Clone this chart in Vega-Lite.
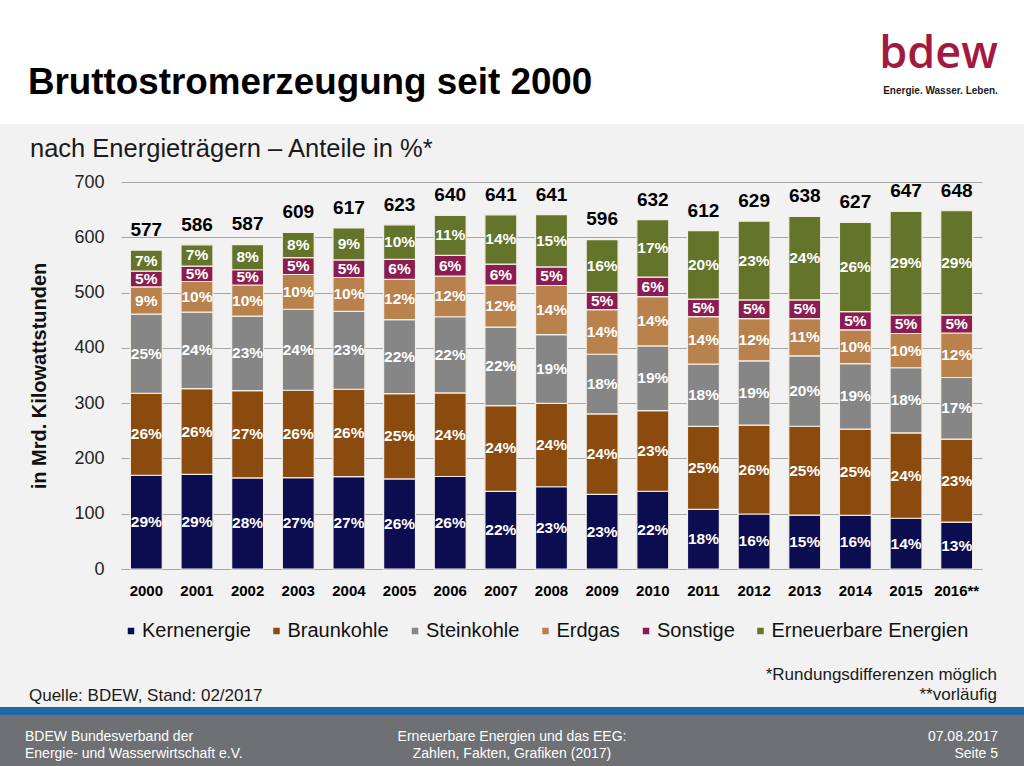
{
  "$schema": "https://vega.github.io/schema/vega-lite/v6.json",
  "background": "#f2f2f2",
  "padding": 0,
  "spacing": 0,
  "config": {
    "font": "Liberation Sans",
    "view": {"stroke": null},
    "concat": {"spacing": 0}
  },
  "datasets": {
    "reihenfolge": [
      {"Traeger":"Kernenergie","Rang":1},
      {"Traeger":"Braunkohle","Rang":2},
      {"Traeger":"Steinkohle","Rang":3},
      {"Traeger":"Erdgas","Rang":4},
      {"Traeger":"Sonstige","Rang":5},
      {"Traeger":"Erneuerbare Energien","Rang":6}
    ],
    "anteile": [
      {"Jahr":"2000","Traeger":"Kernenergie","TWh":169.6,"Anteil":"29%"},
      {"Jahr":"2000","Traeger":"Braunkohle","TWh":148.3,"Anteil":"26%"},
      {"Jahr":"2000","Traeger":"Steinkohle","TWh":143.1,"Anteil":"25%"},
      {"Jahr":"2000","Traeger":"Erdgas","TWh":49.2,"Anteil":"9%"},
      {"Jahr":"2000","Traeger":"Sonstige","TWh":28.5,"Anteil":"5%"},
      {"Jahr":"2000","Traeger":"Erneuerbare Energien","TWh":37.9,"Anteil":"7%"},
      {"Jahr":"2001","Traeger":"Kernenergie","TWh":171.3,"Anteil":"29%"},
      {"Jahr":"2001","Traeger":"Braunkohle","TWh":154.8,"Anteil":"26%"},
      {"Jahr":"2001","Traeger":"Steinkohle","TWh":138.4,"Anteil":"24%"},
      {"Jahr":"2001","Traeger":"Erdgas","TWh":55.5,"Anteil":"10%"},
      {"Jahr":"2001","Traeger":"Sonstige","TWh":27.9,"Anteil":"5%"},
      {"Jahr":"2001","Traeger":"Erneuerbare Energien","TWh":38.5,"Anteil":"7%"},
      {"Jahr":"2002","Traeger":"Kernenergie","TWh":164.8,"Anteil":"28%"},
      {"Jahr":"2002","Traeger":"Braunkohle","TWh":158.0,"Anteil":"27%"},
      {"Jahr":"2002","Traeger":"Steinkohle","TWh":134.6,"Anteil":"23%"},
      {"Jahr":"2002","Traeger":"Erdgas","TWh":56.3,"Anteil":"10%"},
      {"Jahr":"2002","Traeger":"Sonstige","TWh":27.6,"Anteil":"5%"},
      {"Jahr":"2002","Traeger":"Erneuerbare Energien","TWh":45.6,"Anteil":"8%"},
      {"Jahr":"2003","Traeger":"Kernenergie","TWh":165.1,"Anteil":"27%"},
      {"Jahr":"2003","Traeger":"Braunkohle","TWh":158.2,"Anteil":"26%"},
      {"Jahr":"2003","Traeger":"Steinkohle","TWh":146.5,"Anteil":"24%"},
      {"Jahr":"2003","Traeger":"Erdgas","TWh":62.9,"Anteil":"10%"},
      {"Jahr":"2003","Traeger":"Sonstige","TWh":30.4,"Anteil":"5%"},
      {"Jahr":"2003","Traeger":"Erneuerbare Energien","TWh":45.7,"Anteil":"8%"},
      {"Jahr":"2004","Traeger":"Kernenergie","TWh":167.1,"Anteil":"27%"},
      {"Jahr":"2004","Traeger":"Braunkohle","TWh":158.0,"Anteil":"26%"},
      {"Jahr":"2004","Traeger":"Steinkohle","TWh":140.8,"Anteil":"23%"},
      {"Jahr":"2004","Traeger":"Erdgas","TWh":61.4,"Anteil":"10%"},
      {"Jahr":"2004","Traeger":"Sonstige","TWh":31.7,"Anteil":"5%"},
      {"Jahr":"2004","Traeger":"Erneuerbare Energien","TWh":57.8,"Anteil":"9%"},
      {"Jahr":"2005","Traeger":"Kernenergie","TWh":163.0,"Anteil":"26%"},
      {"Jahr":"2005","Traeger":"Braunkohle","TWh":154.1,"Anteil":"25%"},
      {"Jahr":"2005","Traeger":"Steinkohle","TWh":134.1,"Anteil":"22%"},
      {"Jahr":"2005","Traeger":"Erdgas","TWh":72.7,"Anteil":"12%"},
      {"Jahr":"2005","Traeger":"Sonstige","TWh":36.3,"Anteil":"6%"},
      {"Jahr":"2005","Traeger":"Erneuerbare Energien","TWh":62.4,"Anteil":"10%"},
      {"Jahr":"2006","Traeger":"Kernenergie","TWh":167.3,"Anteil":"26%"},
      {"Jahr":"2006","Traeger":"Braunkohle","TWh":151.1,"Anteil":"24%"},
      {"Jahr":"2006","Traeger":"Steinkohle","TWh":137.9,"Anteil":"22%"},
      {"Jahr":"2006","Traeger":"Erdgas","TWh":73.4,"Anteil":"12%"},
      {"Jahr":"2006","Traeger":"Sonstige","TWh":37.6,"Anteil":"6%"},
      {"Jahr":"2006","Traeger":"Erneuerbare Energien","TWh":72.3,"Anteil":"11%"},
      {"Jahr":"2007","Traeger":"Kernenergie","TWh":140.5,"Anteil":"22%"},
      {"Jahr":"2007","Traeger":"Braunkohle","TWh":155.1,"Anteil":"24%"},
      {"Jahr":"2007","Traeger":"Steinkohle","TWh":142.0,"Anteil":"22%"},
      {"Jahr":"2007","Traeger":"Erdgas","TWh":76.0,"Anteil":"12%"},
      {"Jahr":"2007","Traeger":"Sonstige","TWh":38.0,"Anteil":"6%"},
      {"Jahr":"2007","Traeger":"Erneuerbare Energien","TWh":89.0,"Anteil":"14%"},
      {"Jahr":"2008","Traeger":"Kernenergie","TWh":148.8,"Anteil":"23%"},
      {"Jahr":"2008","Traeger":"Braunkohle","TWh":150.6,"Anteil":"24%"},
      {"Jahr":"2008","Traeger":"Steinkohle","TWh":124.6,"Anteil":"19%"},
      {"Jahr":"2008","Traeger":"Erdgas","TWh":88.8,"Anteil":"14%"},
      {"Jahr":"2008","Traeger":"Sonstige","TWh":33.5,"Anteil":"5%"},
      {"Jahr":"2008","Traeger":"Erneuerbare Energien","TWh":94.6,"Anteil":"15%"},
      {"Jahr":"2009","Traeger":"Kernenergie","TWh":134.9,"Anteil":"23%"},
      {"Jahr":"2009","Traeger":"Braunkohle","TWh":145.6,"Anteil":"24%"},
      {"Jahr":"2009","Traeger":"Steinkohle","TWh":107.9,"Anteil":"18%"},
      {"Jahr":"2009","Traeger":"Erdgas","TWh":80.9,"Anteil":"14%"},
      {"Jahr":"2009","Traeger":"Sonstige","TWh":31.0,"Anteil":"5%"},
      {"Jahr":"2009","Traeger":"Erneuerbare Energien","TWh":95.3,"Anteil":"16%"},
      {"Jahr":"2010","Traeger":"Kernenergie","TWh":140.6,"Anteil":"22%"},
      {"Jahr":"2010","Traeger":"Braunkohle","TWh":145.9,"Anteil":"23%"},
      {"Jahr":"2010","Traeger":"Steinkohle","TWh":117.0,"Anteil":"19%"},
      {"Jahr":"2010","Traeger":"Erdgas","TWh":89.3,"Anteil":"14%"},
      {"Jahr":"2010","Traeger":"Sonstige","TWh":35.2,"Anteil":"6%"},
      {"Jahr":"2010","Traeger":"Erneuerbare Energien","TWh":104.0,"Anteil":"17%"},
      {"Jahr":"2011","Traeger":"Kernenergie","TWh":108.0,"Anteil":"18%"},
      {"Jahr":"2011","Traeger":"Braunkohle","TWh":150.1,"Anteil":"25%"},
      {"Jahr":"2011","Traeger":"Steinkohle","TWh":112.4,"Anteil":"18%"},
      {"Jahr":"2011","Traeger":"Erdgas","TWh":86.1,"Anteil":"14%"},
      {"Jahr":"2011","Traeger":"Sonstige","TWh":31.7,"Anteil":"5%"},
      {"Jahr":"2011","Traeger":"Erneuerbare Energien","TWh":123.8,"Anteil":"20%"},
      {"Jahr":"2012","Traeger":"Kernenergie","TWh":99.5,"Anteil":"16%"},
      {"Jahr":"2012","Traeger":"Braunkohle","TWh":160.7,"Anteil":"26%"},
      {"Jahr":"2012","Traeger":"Steinkohle","TWh":116.4,"Anteil":"19%"},
      {"Jahr":"2012","Traeger":"Erdgas","TWh":76.4,"Anteil":"12%"},
      {"Jahr":"2012","Traeger":"Sonstige","TWh":33.7,"Anteil":"5%"},
      {"Jahr":"2012","Traeger":"Erneuerbare Energien","TWh":142.3,"Anteil":"23%"},
      {"Jahr":"2013","Traeger":"Kernenergie","TWh":97.3,"Anteil":"15%"},
      {"Jahr":"2013","Traeger":"Braunkohle","TWh":160.9,"Anteil":"25%"},
      {"Jahr":"2013","Traeger":"Steinkohle","TWh":127.3,"Anteil":"20%"},
      {"Jahr":"2013","Traeger":"Erdgas","TWh":67.5,"Anteil":"11%"},
      {"Jahr":"2013","Traeger":"Sonstige","TWh":33.7,"Anteil":"5%"},
      {"Jahr":"2013","Traeger":"Erneuerbare Energien","TWh":151.2,"Anteil":"24%"},
      {"Jahr":"2014","Traeger":"Kernenergie","TWh":97.1,"Anteil":"16%"},
      {"Jahr":"2014","Traeger":"Braunkohle","TWh":155.8,"Anteil":"25%"},
      {"Jahr":"2014","Traeger":"Steinkohle","TWh":118.6,"Anteil":"19%"},
      {"Jahr":"2014","Traeger":"Erdgas","TWh":61.1,"Anteil":"10%"},
      {"Jahr":"2014","Traeger":"Sonstige","TWh":33.1,"Anteil":"5%"},
      {"Jahr":"2014","Traeger":"Erneuerbare Energien","TWh":161.4,"Anteil":"26%"},
      {"Jahr":"2015","Traeger":"Kernenergie","TWh":91.8,"Anteil":"14%"},
      {"Jahr":"2015","Traeger":"Braunkohle","TWh":154.5,"Anteil":"24%"},
      {"Jahr":"2015","Traeger":"Steinkohle","TWh":117.7,"Anteil":"18%"},
      {"Jahr":"2015","Traeger":"Erdgas","TWh":62.0,"Anteil":"10%"},
      {"Jahr":"2015","Traeger":"Sonstige","TWh":33.4,"Anteil":"5%"},
      {"Jahr":"2015","Traeger":"Erneuerbare Energien","TWh":187.4,"Anteil":"29%"},
      {"Jahr":"2016**","Traeger":"Kernenergie","TWh":84.9,"Anteil":"13%"},
      {"Jahr":"2016**","Traeger":"Braunkohle","TWh":150.0,"Anteil":"23%"},
      {"Jahr":"2016**","Traeger":"Steinkohle","TWh":111.5,"Anteil":"17%"},
      {"Jahr":"2016**","Traeger":"Erdgas","TWh":80.5,"Anteil":"12%"},
      {"Jahr":"2016**","Traeger":"Sonstige","TWh":32.8,"Anteil":"5%"},
      {"Jahr":"2016**","Traeger":"Erneuerbare Energien","TWh":188.3,"Anteil":"29%"}
    ],
    "summen": [
      {"Jahr":"2000","Summe":577},{"Jahr":"2001","Summe":586},{"Jahr":"2002","Summe":587},
      {"Jahr":"2003","Summe":609},{"Jahr":"2004","Summe":617},{"Jahr":"2005","Summe":623},
      {"Jahr":"2006","Summe":640},{"Jahr":"2007","Summe":641},{"Jahr":"2008","Summe":641},
      {"Jahr":"2009","Summe":596},{"Jahr":"2010","Summe":632},{"Jahr":"2011","Summe":612},
      {"Jahr":"2012","Summe":629},{"Jahr":"2013","Summe":638},{"Jahr":"2014","Summe":627},
      {"Jahr":"2015","Summe":647},{"Jahr":"2016**","Summe":648}
    ]
  },
  "vconcat": [
    {
      "spacing": 12,
      "vconcat": [
        {
          "width": 1024,
          "height": 124,
          "view": {"fill": "#ffffff", "stroke": null},
          "layer": [
            {
              "data": {"values": [{"Text": "Bruttostromerzeugung seit 2000"}]},
              "mark": {"type": "text", "align": "left", "baseline": "alphabetic", "fontSize": 36.8, "fontWeight": "bold", "color": "#000000"},
              "encoding": {
                "text": {"field": "Text"},
                "x": {"datum": 0.0273, "type": "quantitative", "scale": {"domain": [0, 1], "nice": false, "zero": false}, "axis": null},
                "y": {"datum": 0.755, "type": "quantitative", "scale": {"domain": [1, 0], "nice": false, "zero": false}, "axis": null}
              }
            },
            {
              "data": {"values": [{"Text": "bdew"}]},
              "mark": {"type": "text", "align": "right", "baseline": "alphabetic", "fontSize": 45, "font": "Open Sans", "fontWeight": 600, "color": "#a31a41"},
              "encoding": {
                "text": {"field": "Text"},
                "x": {"datum": 0.9745, "type": "quantitative"},
                "y": {"datum": 0.551, "type": "quantitative"}
              }
            },
            {
              "data": {"values": [{"Text": "Energie. Wasser. Leben."}]},
              "mark": {"type": "text", "align": "right", "baseline": "alphabetic", "fontSize": 10, "fontWeight": "bold", "font": "Liberation Sans", "color": "#1a1a1a"},
              "encoding": {
                "text": {"field": "Text"},
                "x": {"datum": 0.9745, "type": "quantitative"},
                "y": {"datum": 0.762, "type": "quantitative"}
              }
            }
          ]
        },
        {
          "spacing": 0,
          "hconcat": [
            {
              "width": 29,
              "height": 1,
              "data": {"values": []},
              "mark": "point"
            },
            {
              "width": 861,
              "height": 387,
              "title": {"text": "nach Energieträgern – Anteile in %*", "anchor": "start", "frame": "bounds", "fontSize": 25.5, "fontWeight": "normal", "color": "#1a1a1a", "offset": 11},
              "resolve": {"scale": {"color": "independent"}},
              "layer": [
                {
                  "data": {"name": "anteile"},
                  "transform": [
                    {"lookup": "Traeger", "from": {"data": {"name": "reihenfolge"}, "key": "Traeger", "fields": ["Rang"]}}
                  ],
                  "mark": {"type": "bar", "stroke": "#f4ede4", "strokeWidth": 1.2},
                  "encoding": {
                    "x": {
                      "field": "Jahr", "type": "nominal", "sort": null,
                      "scale": {"paddingInner": 0.37, "paddingOuter": 0.185},
                      "axis": {"title": null, "labelFontSize": 15, "labelFontWeight": "bold", "labelColor": "#000000", "labelAngle": 0, "ticks": false, "labelPadding": 14, "domain": true, "domainColor": "#a6a6a6", "domainWidth": 1, "grid": false}
                    },
                    "y": {
                      "field": "TWh", "type": "quantitative", "stack": "zero",
                      "scale": {"domain": [0, 700], "nice": false},
                      "axis": {"title": "in Mrd. Kilowattstunden", "titleFontSize": 20, "titleFontWeight": "bold", "titleColor": "#111111", "titlePadding": 24, "values": [0, 100, 200, 300, 400, 500, 600, 700], "labelFontSize": 18, "labelColor": "#222222", "labelPadding": 17, "ticks": false, "domain": false, "grid": true, "gridColor": "#a6a6a6", "gridWidth": 1}
                    },
                    "order": {"field": "Rang", "type": "quantitative", "sort": "ascending"},
                    "color": {
                      "field": "Traeger", "type": "nominal",
                      "sort": ["Kernenergie", "Braunkohle", "Steinkohle", "Erdgas", "Sonstige", "Erneuerbare Energien"],
                      "scale": {
                        "domain": ["Kernenergie", "Braunkohle", "Steinkohle", "Erdgas", "Sonstige", "Erneuerbare Energien"],
                        "range": ["#0c0c50", "#8b4a0e", "#868686", "#b9814c", "#8c1d52", "#64742a"]
                      },
                      "legend": {"orient": "bottom", "direction": "horizontal", "title": null, "symbolType": "square", "symbolSize": 42, "symbolStrokeWidth": 0, "labelFontSize": 20, "labelColor": "#111111", "labelOffset": 1, "columnPadding": 15.5, "offset": 23, "labelLimit": 400}
                    }
                  }
                },
                {
                  "data": {"name": "anteile"},
                  "transform": [
                    {"lookup": "Traeger", "from": {"data": {"name": "reihenfolge"}, "key": "Traeger", "fields": ["Rang"]}}
                  ],
                  "mark": {"type": "text", "fontWeight": "bold", "fontSize": 15.5, "baseline": "middle"},
                  "encoding": {
                    "x": {"field": "Jahr", "type": "nominal", "sort": null},
                    "y": {"field": "TWh", "type": "quantitative", "stack": "zero", "bandPosition": 0.5},
                    "order": {"field": "Rang", "type": "quantitative", "sort": "ascending"},
                    "text": {"field": "Anteil"},
                    "color": {
                      "field": "Traeger", "type": "nominal",
                      "sort": ["Kernenergie", "Braunkohle", "Steinkohle", "Erdgas", "Sonstige", "Erneuerbare Energien"],
                      "scale": {
                        "domain": ["Kernenergie", "Braunkohle", "Steinkohle", "Erdgas", "Sonstige", "Erneuerbare Energien"],
                        "range": ["#ffffff", "#ffffff", "#ffffff", "#ffffff", "#ffffff", "#ffffff"]
                      },
                      "legend": null
                    }
                  }
                },
                {
                  "data": {"name": "summen"},
                  "mark": {"type": "text", "fontWeight": "bold", "fontSize": 19, "baseline": "alphabetic", "dy": -14, "color": "#000000"},
                  "encoding": {
                    "x": {"field": "Jahr", "type": "nominal", "sort": null},
                    "y": {"field": "Summe", "type": "quantitative"},
                    "text": {"field": "Summe"}
                  }
                }
              ]
            }
          ]
        }
      ]
    },
    {
      "width": 1024,
      "height": 66,
      "layer": [
        {
          "data": {"values": [{"Text": "Quelle: BDEW, Stand: 02/2017"}]},
          "mark": {"type": "text", "align": "left", "baseline": "alphabetic", "fontSize": 17, "color": "#1a1a1a"},
          "encoding": {
            "text": {"field": "Text"},
            "x": {"datum": 0.0283, "type": "quantitative", "scale": {"domain": [0, 1], "nice": false, "zero": false}, "axis": null},
            "y": {"datum": 0.909, "type": "quantitative", "scale": {"domain": [1, 0], "nice": false, "zero": false}, "axis": null}
          }
        },
        {
          "data": {"values": [{"Text": "*Rundungsdifferenzen möglich\n**vorläufig"}]},
          "mark": {"type": "text", "align": "right", "baseline": "alphabetic", "fontSize": 17, "lineBreak": "\n", "lineHeight": 20, "color": "#1a1a1a"},
          "encoding": {
            "text": {"field": "Text"},
            "x": {"datum": 0.9736, "type": "quantitative"},
            "y": {"datum": 0.591, "type": "quantitative"}
          }
        }
      ]
    },
    {
      "width": 1024,
      "height": 8,
      "view": {"fill": "#1f6aa6", "stroke": null},
      "data": {"values": []},
      "mark": "point"
    },
    {
      "width": 1024,
      "height": 52,
      "view": {"fill": "#6e7073", "stroke": null},
      "layer": [
        {
          "data": {"values": [{"Text": "BDEW Bundesverband der\nEnergie- und Wasserwirtschaft e.V."}]},
          "mark": {"type": "text", "align": "left", "baseline": "alphabetic", "fontSize": 14, "lineBreak": "\n", "lineHeight": 17, "color": "#ffffff"},
          "encoding": {
            "text": {"field": "Text"},
            "x": {"datum": 0.0244, "type": "quantitative", "scale": {"domain": [0, 1], "nice": false, "zero": false}, "axis": null},
            "y": {"datum": 0.5, "type": "quantitative", "scale": {"domain": [1, 0], "nice": false, "zero": false}, "axis": null}
          }
        },
        {
          "data": {"values": [{"Text": "Erneuerbare Energien und das EEG:\nZahlen, Fakten, Grafiken (2017)"}]},
          "mark": {"type": "text", "align": "center", "baseline": "alphabetic", "fontSize": 14, "lineBreak": "\n", "lineHeight": 17, "color": "#ffffff"},
          "encoding": {
            "text": {"field": "Text"},
            "x": {"datum": 0.5, "type": "quantitative"},
            "y": {"datum": 0.5, "type": "quantitative"}
          }
        },
        {
          "data": {"values": [{"Text": "07.08.2017\nSeite 5"}]},
          "mark": {"type": "text", "align": "right", "baseline": "alphabetic", "fontSize": 14, "lineBreak": "\n", "lineHeight": 17, "color": "#ffffff"},
          "encoding": {
            "text": {"field": "Text"},
            "x": {"datum": 0.9746, "type": "quantitative"},
            "y": {"datum": 0.5, "type": "quantitative"}
          }
        }
      ]
    }
  ]
}
